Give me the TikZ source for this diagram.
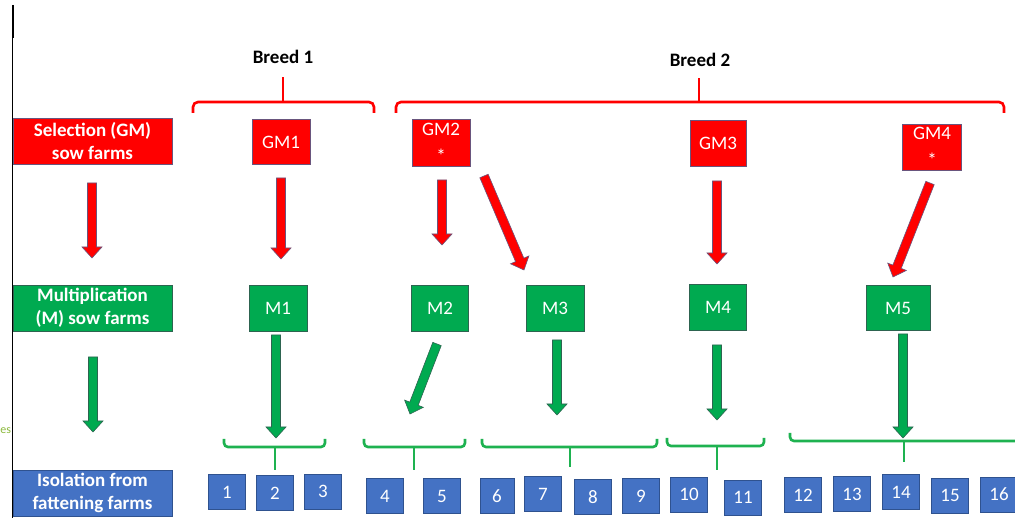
\documentclass[tikz,border=0pt]{standalone}
\usepackage{fontspec}
\setmainfont{Carlito}
\usetikzlibrary{calc}
\definecolor{myred}{RGB}{255,0,0}
\definecolor{rededge}{RGB}{105,85,125}
\definecolor{mygreen}{RGB}{0,170,80}
\definecolor{greenedge}{RGB}{45,100,80}
\definecolor{bracegreen}{RGB}{30,178,80}
\definecolor{myblue}{RGB}{68,114,196}
\definecolor{blueedge}{RGB}{47,82,143}
\definecolor{esgreen}{RGB}{140,185,60}
\newcommand{\blockarr}[3]{%
  \coordinate (ba-h) at ($(#2)!11pt!(#1)$);
  \filldraw[#3] ($(#1)!4.5pt!90:(#2)$) -- ($(ba-h)!4.5pt!-90:(#1)$) -- ($(ba-h)!10pt!-90:(#1)$) -- (#2)
    -- ($(ba-h)!10pt!90:(#1)$) -- ($(ba-h)!4.5pt!90:(#1)$) -- ($(#1)!4.5pt!-90:(#2)$) -- cycle;
}
\begin{document}
\begin{tikzpicture}[x=1pt,y=-1pt,
  lbl/.style={font=\fontsize{19}{23}\selectfont\bfseries, text=white, align=center, inner sep=0pt,
    minimum width=159pt, minimum height=46pt, line width=0.8pt},
  redbox/.style={fill=myred, draw=rededge, line width=0.8pt, text=white, inner sep=0pt,
    font=\fontsize{19}{23}\selectfont, align=center},
  greenbox/.style={fill=mygreen, draw=greenedge, line width=0.8pt, text=white, inner sep=0pt,
    font=\fontsize{19}{23}\selectfont, align=center, minimum width=58pt, minimum height=46pt},
  numbox/.style={fill=myblue, draw=blueedge, line width=0.8pt, text=white, inner sep=0pt,
    font=\fontsize{19}{23}\selectfont, minimum width=37pt, minimum height=35pt},
  redarr/.style={fill=myred, draw=rededge, line width=0.6pt, line join=miter},
  greenarr/.style={fill=mygreen, draw=greenedge, line width=0.6pt, line join=miter},
  redbrace/.style={draw=myred, line width=2.6pt, rounded corners=5pt},
  greenbrace/.style={draw=bracegreen, line width=2.6pt, rounded corners=4pt},
  breed/.style={font=\fontsize{19}{23}\selectfont\bfseries, text=black, inner sep=0pt}
]
\useasboundingbox (0,0) rectangle (1015,518);
\fill[white] (0,0) rectangle (1015,518);

% left border line
\draw[black, line width=1.3pt] (12.5,5) -- (12.5,520);
\draw[black, line width=2.6pt] (12.8,5) -- (12.8,38);
\node[text=esgreen, font=\fontsize{12}{14}\selectfont, anchor=west, inner sep=0pt] (es) at (0.3,431) {es};

% breed labels and braces
\node[breed] (b1) at (283,57) {Breed 1};
\node[breed] (b2) at (700,60) {Breed 2};
\draw[redbrace] (193,113) -- (193,102) -- (374,102) -- (374,113);
\draw[myred, line width=2.6pt] (283,102) -- (283,77);
\draw[redbrace] (396,113) -- (396,102) -- (1004,102) -- (1004,113);
\draw[myred, line width=2.6pt] (699,102) -- (699,78);

% left labels
\node[lbl, fill=myred, draw=rededge] (sel) at (92.5,141) {Selection (GM)\\sow farms};
\node[lbl, fill=mygreen, draw=greenedge] (mul) at (92.5,308) {Multiplication\\(M) sow farms};
\node[lbl, fill=myblue, draw=blueedge] (iso) at (92.5,493) {Isolation from\\fattening farms};

% GM boxes
\node[redbox, minimum width=58pt, minimum height=45pt] (gm1) at (281,142) {GM1};
\node[redbox, minimum width=58pt, minimum height=47pt] (gm2) at (441,143) {GM2\\[4pt]*};
\node[redbox, minimum width=56pt, minimum height=46pt] (gm3) at (718,143) {GM3};
\node[redbox, minimum width=59pt, minimum height=46pt] (gm4) at (932,147) {GM4\\[4pt]*};

% M boxes
\node[greenbox] (m1) at (278,308) {M1};
\node[greenbox, minimum width=57pt] (m2) at (440,308) {M2};
\node[greenbox] (m3) at (555,308) {M3};
\node[greenbox, minimum width=57pt] (m4) at (718,307) {M4};
\node[greenbox, minimum width=64pt, minimum height=45pt] (m5) at (898,308) {M5};

% red arrows
\coordinate (rLs) at (92,183);   \coordinate (rLe) at (92,258);
\coordinate (r1s) at (281,178);  \coordinate (r1e) at (281,259);
\coordinate (r2s) at (442,180);  \coordinate (r2e) at (442,245);
\coordinate (r3s) at (484,176);  \coordinate (r3e) at (524,270);
\coordinate (r4s) at (717,181);  \coordinate (r4e) at (717,264);
\coordinate (r5s) at (930,183);  \coordinate (r5e) at (893,277);
\blockarr{rLs}{rLe}{redarr}
\blockarr{r1s}{r1e}{redarr}
\blockarr{r2s}{r2e}{redarr}
\blockarr{r3s}{r3e}{redarr}
\blockarr{r4s}{r4e}{redarr}
\blockarr{r5s}{r5e}{redarr}

% green arrows
\coordinate (gLs) at (93,357);   \coordinate (gLe) at (93,432);
\coordinate (g1s) at (276,335);  \coordinate (g1e) at (276,438);
\coordinate (g2s) at (437,344);  \coordinate (g2e) at (410,414);
\coordinate (g3s) at (557,340);  \coordinate (g3e) at (557,415);
\coordinate (g4s) at (717,345);  \coordinate (g4e) at (717,420);
\coordinate (g5s) at (903,334);  \coordinate (g5e) at (903,438);
\blockarr{gLs}{gLe}{greenarr}
\blockarr{g1s}{g1e}{greenarr}
\blockarr{g2s}{g2e}{greenarr}
\blockarr{g3s}{g3e}{greenarr}
\blockarr{g4s}{g4e}{greenarr}
\blockarr{g5s}{g5e}{greenarr}

% green braces
\draw[greenbrace] (224,439) -- (224,447) -- (325,447) -- (325,439);
\draw[bracegreen, line width=2.6pt] (275,447) -- (275,470);
\draw[greenbrace] (364,439) -- (364,447) -- (465,447) -- (465,439);
\draw[bracegreen, line width=2.6pt] (414,447) -- (414,470);
\draw[greenbrace] (482,439) -- (482,447) -- (657,447) -- (657,439);
\draw[bracegreen, line width=2.6pt] (570,447) -- (570,467);
\draw[greenbrace] (667,438) -- (667,446) -- (764,446) -- (764,438);
\draw[bracegreen, line width=2.6pt] (717,446) -- (717,470);
\draw[greenbrace] (790,433) -- (790,441) -- (1020,441);
\draw[bracegreen, line width=2.6pt] (904,441) -- (904,462);

% numbered boxes
\node[numbox] (n1) at (227,492) {1};
\node[numbox] (n2) at (275,493) {2};
\node[numbox] (n3) at (323,491.5) {3};
\node[numbox] (n4) at (385,496) {4};
\node[numbox] (n5) at (442,496) {5};
\node[numbox, minimum width=34pt] (n6) at (497,496) {6};
\node[numbox] (n7) at (543,494) {7};
\node[numbox] (n8) at (593,497) {8};
\node[numbox] (n9) at (641,496) {9};
\node[numbox] (n10) at (689,494.5) {10};
\node[numbox] (n11) at (743,497.5) {11};
\node[numbox] (n12) at (803,495) {12};
\node[numbox] (n13) at (852,494) {13};
\node[numbox] (n14) at (901,492) {14};
\node[numbox] (n15) at (950,495.5) {15};
\node[numbox] (n16) at (999,494.5) {16};
\end{tikzpicture}
\end{document}
